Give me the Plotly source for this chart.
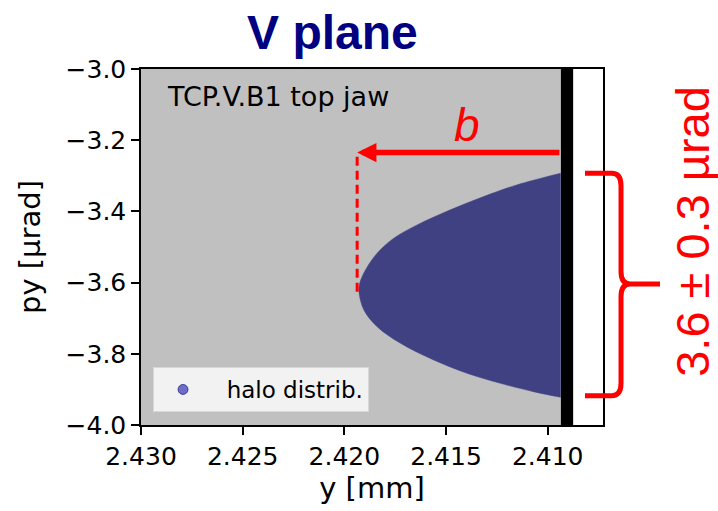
import plotly.graph_objects as go

# --- data -------------------------------------------------------------
# halo distribution outline in (y, py) phase space, cut by the jaw
halo_y = [2.40936, 2.41152, 2.41315, 2.41479, 2.41642, 2.41757, 2.41839,
          2.41896, 2.41924, 2.41928, 2.41904, 2.41839, 2.41724, 2.41561,
          2.41397, 2.41233, 2.41070, 2.40936]
halo_py = [-3.2926, -3.3255, -3.3583, -3.3957, -3.4379, -3.4753, -3.5174,
           -3.5644, -3.6010, -3.6262, -3.6768, -3.7237, -3.7704, -3.8173,
           -3.8547, -3.8828, -3.9064, -3.9222]

jaw_edge = 2.40935       # inner face of the top jaw
jaw_back = 2.40874       # outer face of the jaw
y_range = [2.430, 2.40728]
py_range = [-4.0, -3.0]

x_ticks = [2.430, 2.425, 2.420, 2.415, 2.410]
py_ticks = [-3.0, -3.2, -3.4, -3.6, -3.8, -4.0]

# impact parameter b: arrow from jaw to the halo tip
b_py = -3.2347
b_tip = 2.41937
b_dash_top = -3.2468
b_dash_bottom = -3.6259
b_label = (2.41395, -3.158)

# angular spread bracket
spread_top = -3.2926
spread_bottom = -3.9180
spread_mid = -3.604
spread_text = "3.6 ± 0.3 µrad"

DEJAVU = "DejaVu Sans"
ARIAL = "Liberation Sans, Arial"
HALO = "#404182"
RED = "#ff0000"

fig = go.Figure()

fig.add_trace(go.Scatter(
    x=halo_y, y=halo_py, mode="lines", fill="toself",
    fillcolor=HALO, line=dict(color=HALO, width=0.5, shape="spline",
                              smoothing=1.0),
    showlegend=False, hoverinfo="skip"))

# legend entry for the scattered halo particles
fig.add_trace(go.Scatter(
    x=[None], y=[None], mode="markers", name="\u00a0\u00a0halo distrib.",
    marker=dict(size=10, color="rgba(0,0,160,0.55)",
                line=dict(color="rgba(0,0,128,0.6)", width=1))))

shapes = [
    # jaw body and the shadowed region behind it
    dict(type="rect", xref="x", yref="paper", x0=jaw_edge, x1=jaw_back,
         y0=0, y1=1, fillcolor="black", line=dict(width=0), layer="below"),
    dict(type="rect", xref="x", yref="paper", x0=jaw_back, x1=y_range[1],
         y0=0, y1=1, fillcolor="white", line=dict(width=0), layer="below"),
    # dashed drop line at the halo tip
    dict(type="line", xref="x", yref="y", x0=b_tip, x1=b_tip,
         y0=b_dash_top, y1=b_dash_bottom,
         line=dict(color=RED, width=3, dash="9px,5px")),
]

# curly bracket to the right of the axes
xa, xv, xt = 0.961, 1.039, 1.1234
d, dy = 0.02, 0.035
brace = (
    f"M {xa},{spread_top} L {xv - d},{spread_top} "
    f"Q {xv},{spread_top} {xv},{spread_top - dy} "
    f"L {xv},{spread_mid + dy} Q {xv},{spread_mid} {xv + d},{spread_mid} "
    f"L {xt},{spread_mid} "
    f"M {xv + d},{spread_mid} Q {xv},{spread_mid} {xv},{spread_mid - dy} "
    f"L {xv},{spread_bottom + dy} Q {xv},{spread_bottom} {xv - d},{spread_bottom} "
    f"L {xa},{spread_bottom}"
)
shapes.append(dict(type="path", xref="paper", yref="y", path=brace,
                   line=dict(color=RED, width=5)))

annotations = [
    dict(x=b_tip, y=b_py, ax=jaw_edge, ay=b_py, xref="x", yref="y",
         axref="x", ayref="y", text="", showarrow=True, arrowhead=2,
         arrowsize=0.7, arrowwidth=5.5, arrowcolor=RED),
    dict(x=b_label[0], y=b_label[1], xref="x", yref="y", text="<i>b</i>",
         showarrow=False, font=dict(family=ARIAL, size=46, color=RED)),
    dict(x=1.192, y=(spread_top + spread_bottom) / 2 + 0.15, xref="paper",
         yref="y", text=spread_text, textangle=-90, showarrow=False,
         xanchor="center", yanchor="middle",
         font=dict(family=ARIAL, size=47, color=RED)),
    dict(x=0.052, y=0.924, xref="paper", yref="paper",
         text="TCP.V.B1 top jaw", showarrow=False, xanchor="left",
         yanchor="middle", font=dict(family=DEJAVU, size=27, color="black")),
]

axis_style = dict(showline=True, linecolor="black", linewidth=1.5,
                  mirror=True, ticks="outside", ticklen=8, tickwidth=1.5,
                  tickcolor="black", showgrid=False, zeroline=False,
                  tickfont=dict(family=DEJAVU, size=25, color="black"))

fig.update_layout(
    width=718, height=511,
    margin=dict(l=141, r=115, t=69, b=86),
    paper_bgcolor="white", plot_bgcolor="#c0c0c0",
    title=dict(text="<b>V plane</b>", x=0.463, xanchor="center",
               y=1 - 32 / 511, yanchor="middle",
               font=dict(family=ARIAL, size=48, color="#000080")),
    xaxis=dict(range=y_range, tickvals=x_ticks, tickformat=".3f",
               title=dict(text="y [mm]", standoff=8,
                          font=dict(family=DEJAVU, size=29, color="black")),
               **axis_style),
    yaxis=dict(range=py_range, tickvals=py_ticks, tickformat=".1f",
               title=dict(text="py [µrad]", standoff=16,
                          font=dict(family=DEJAVU, size=29, color="black")),
               **axis_style),
    legend=dict(x=0.026, y=0.0365, xanchor="left", yanchor="bottom",
                bgcolor="#f2f2f2", bordercolor="#d8d8d8", borderwidth=1,
                font=dict(family=DEJAVU, size=23, color="black"),
                itemwidth=48),
    shapes=shapes, annotations=annotations,
)

fig.write_html("out.html")
